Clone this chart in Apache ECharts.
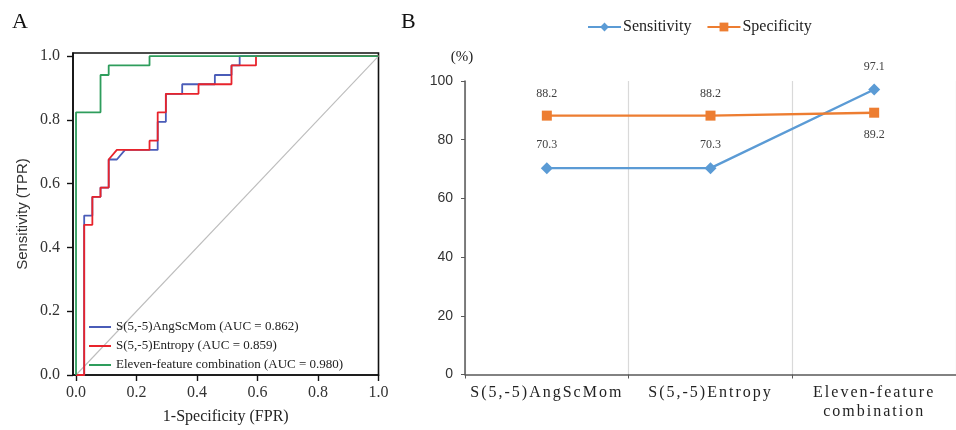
<!DOCTYPE html>
<html>
<head>
<meta charset="utf-8">
<script src="https://cdn.jsdelivr.net/npm/echarts@6/dist/echarts.min.js"></script>
<style>
  html, body { margin: 0; padding: 0; background: #fff; }
  #chart { width: 956px; height: 430px; }
</style>
</head>
<body>
<div id="chart"></div>
<script>
// ---- Panel A: ROC curves, [1-specificity, sensitivity] step points ----
const angScMomRoc = [
  [0, 0], [0.027, 0], [0.027, 0.5], [0.054, 0.5], [0.054, 0.559], [0.081, 0.559],
  [0.081, 0.588], [0.108, 0.588], [0.108, 0.676], [0.135, 0.676], [0.162, 0.706],
  [0.270, 0.706], [0.270, 0.794], [0.297, 0.794], [0.297, 0.882], [0.351, 0.882],
  [0.351, 0.912], [0.459, 0.912], [0.459, 0.941], [0.514, 0.941], [0.514, 0.971],
  [0.541, 0.971], [0.541, 1], [1, 1]
];
const entropyRoc = [
  [0, 0], [0.027, 0], [0.027, 0.471], [0.054, 0.471], [0.054, 0.559], [0.081, 0.559],
  [0.081, 0.588], [0.108, 0.588], [0.108, 0.676], [0.135, 0.706], [0.243, 0.706],
  [0.243, 0.735], [0.270, 0.735], [0.270, 0.824], [0.297, 0.824], [0.297, 0.882],
  [0.405, 0.882], [0.405, 0.912], [0.514, 0.912], [0.514, 0.971], [0.595, 0.971],
  [0.595, 1], [1, 1]
];
const combinedRoc = [
  [0, 0], [0, 0.824], [0.081, 0.824], [0.081, 0.941], [0.108, 0.941],
  [0.108, 0.971], [0.243, 0.971], [0.243, 1], [1, 1]
];
const chanceLine = [[0, 0], [1, 1]];
const rocNames = [
  'S(5,-5)AngScMom (AUC = 0.862)',
  'S(5,-5)Entropy (AUC = 0.859)',
  'Eleven-feature combination (AUC = 0.980)'
];
const rocTicks = [0, 0.2, 0.4, 0.6, 0.8, 1.0];

// ---- Panel B: sensitivity / specificity per model (%) ----
const models = ['S(5,-5)AngScMom', 'S(5,-5)Entropy', 'Eleven-feature\ncombination'];
const sensitivity = [70.3, 70.3, 97.1];
const specificity = [88.2, 88.2, 89.2];

const SERIF = "'Liberation Serif', 'Times New Roman', serif";
const SANS = "'Liberation Sans', Arial, sans-serif";
// the category labels of panel B are set with wide tracking; this family list marks them
const SPACED_SERIF = "'Liberation Serif', Times, serif";
const BLUE_B = '#5B9BD5';
const ORANGE_B = '#ED7D31';

// Canvas letter-spacing: tracked family gets 2px, every other text 0px
(function () {
  const proto = CanvasRenderingContext2D.prototype;
  const fill = proto.fillText;
  proto.fillText = function (text, x, y, maxWidth) {
    if ('letterSpacing' in this) {
      const want = (this.font || '').indexOf('Times, serif') >= 0 ? '2px' : '0px';
      if (this.letterSpacing !== want) {
        this.letterSpacing = want;
        this.font = this.font;
      }
    }
    return maxWidth === undefined ? fill.call(this, text, x, y) : fill.call(this, text, x, y, maxWidth);
  };
})();

const chart = echarts.init(document.getElementById('chart'), null, { renderer: 'canvas' });

const rocLine = (name, data, color) => ({
  name, type: 'line', data,
  xAxisIndex: 0, yAxisIndex: 0,
  symbol: 'none', showSymbol: false,
  lineStyle: { color, width: 1.8 },
  itemStyle: { color },
  emphasis: { disabled: true }
});

chart.setOption({
  animation: false,
  backgroundColor: '#fff',
  title: [
    { text: 'A', left: 12, top: 11, padding: 0, textStyle: { fontFamily: SERIF, fontSize: 22, fontWeight: 'normal', color: '#111' } },
    { text: 'B', left: 401, top: 11, padding: 0, textStyle: { fontFamily: SERIF, fontSize: 22, fontWeight: 'normal', color: '#111' } }
  ],
  legend: [
    {
      data: rocNames,
      orient: 'vertical',
      left: 84, top: 315,
      icon: 'rect',
      itemWidth: 22, itemHeight: 2, itemGap: 5,
      textStyle: { fontFamily: SERIF, fontSize: 13, lineHeight: 14, color: '#222' },
      selectedMode: false
    },
    {
      data: ['Sensitivity', 'Specificity'],
      orient: 'horizontal',
      left: 582, top: 14,
      itemWidth: 33, itemHeight: 11, itemGap: 15,
      textStyle: { fontFamily: SERIF, fontSize: 16, color: '#222', padding: [0, 0, 0, -3] },
      selectedMode: false
    }
  ],
  grid: [
    { left: 73, top: 53, width: 305.5, height: 327, show: true, borderColor: '#111', borderWidth: 1.6, backgroundColor: 'transparent' },
    { left: 465, top: 81, right: -5.5, height: 293.5 }
  ],
  xAxis: [
    {
      gridIndex: 0, type: 'value', min: -0.01, max: 1,
      name: '1-Specificity (FPR)', nameLocation: 'middle', nameGap: 34,
      nameTextStyle: { fontFamily: SERIF, fontSize: 16, color: '#222' },
      axisLine: { show: true, onZero: false, lineStyle: { color: '#111', width: 1.6 } },
      axisTick: { show: true, customValues: rocTicks, length: 6, lineStyle: { color: '#111', width: 1.4 } },
      axisLabel: {
        customValues: rocTicks, margin: 10,
        formatter: v => v.toFixed(1),
        fontFamily: SERIF, fontSize: 16, color: '#333'
      },
      splitLine: { show: false }
    },
    {
      gridIndex: 1, type: 'category', data: models, boundaryGap: true,
      axisLine: { show: true, lineStyle: { color: '#595959', width: 1.5 } },
      axisTick: { show: true, length: 4, alignWithLabel: false, lineStyle: { color: '#595959' } },
      axisLabel: {
        interval: 0, margin: 9,
        fontFamily: SPACED_SERIF, fontSize: 16, lineHeight: 19, color: '#222'
      },
      splitLine: { show: true, lineStyle: { color: '#d9d9d9', width: 1.2 } }
    }
  ],
  yAxis: [
    {
      gridIndex: 0, type: 'value', min: 0, max: 1.01,
      name: 'Sensitivity (TPR)', nameLocation: 'middle', nameGap: 43, nameRotate: 90,
      nameTextStyle: { fontFamily: SANS, fontSize: 15, color: '#333' },
      axisLine: { show: true, onZero: false, lineStyle: { color: '#111', width: 1.6 } },
      axisTick: { show: true, customValues: rocTicks, length: 6, lineStyle: { color: '#111', width: 1.4 } },
      axisLabel: {
        customValues: rocTicks, margin: 13,
        formatter: v => v.toFixed(1),
        fontFamily: SERIF, fontSize: 16, color: '#333'
      },
      splitLine: { show: false }
    },
    {
      gridIndex: 1, type: 'value', min: 0, max: 100, interval: 20,
      name: '(%)', nameLocation: 'end', nameGap: 16,
      nameTextStyle: { fontFamily: SERIF, fontSize: 15, color: '#222', padding: [0, 6, 0, 0] },
      axisLine: { show: true, lineStyle: { color: '#595959', width: 1.5 } },
      axisTick: { show: true, length: 4, lineStyle: { color: '#595959' } },
      axisLabel: { margin: 12, fontFamily: SANS, fontSize: 14, color: '#333' },
      splitLine: { show: false }
    }
  ],
  series: [
    {
      name: 'chance', type: 'line', data: chanceLine,
      xAxisIndex: 0, yAxisIndex: 0, symbol: 'none',
      lineStyle: { color: '#bdbdbd', width: 1.1 },
      emphasis: { disabled: true }, silent: true
    },
    rocLine(rocNames[0], angScMomRoc, '#4a5cb8'),
    rocLine(rocNames[1], entropyRoc, '#e8232b'),
    rocLine(rocNames[2], combinedRoc, '#2e9d5c'),
    {
      name: 'Sensitivity', type: 'line', data: sensitivity,
      xAxisIndex: 1, yAxisIndex: 1,
      symbol: 'diamond', symbolSize: 12,
      lineStyle: { color: BLUE_B, width: 2.4 },
      itemStyle: { color: BLUE_B },
      label: { show: true, position: 'top', distance: 11, fontFamily: SERIF, fontSize: 12, color: '#404040' },
      emphasis: { disabled: true }
    },
    {
      name: 'Specificity', type: 'line',
      data: specificity.map((v, i) => ({
        value: v,
        label: { position: i === specificity.length - 1 ? 'bottom' : 'top' }
      })),
      xAxisIndex: 1, yAxisIndex: 1,
      symbol: 'rect', symbolSize: 10,
      lineStyle: { color: ORANGE_B, width: 2.4 },
      itemStyle: { color: ORANGE_B },
      label: { show: true, distance: 11, fontFamily: SERIF, fontSize: 12, color: '#404040' },
      emphasis: { disabled: true }
    }
  ]
});
</script>
</body>
</html>
